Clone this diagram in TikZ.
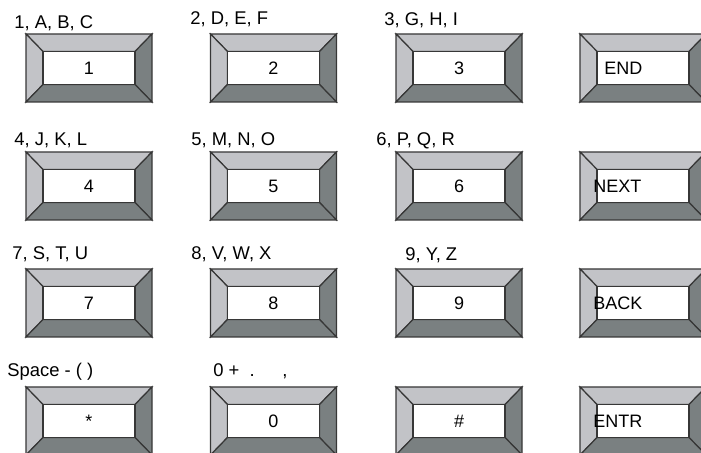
\documentclass[tikz,border=0pt]{standalone}
\usepackage{fontspec}
\setmainfont{Liberation Sans}
\usetikzlibrary{positioning}
\definecolor{bevellight}{RGB}{194,195,199}
\definecolor{beveldark}{RGB}{122,128,129}
\definecolor{keyedge}{RGB}{55,55,55}

\tikzset{
  keyline/.style={draw=keyedge, line width=0.6pt, line join=miter},
  keytext/.style={inner sep=0pt, font=\fontsize{9}{11}\selectfont},
  keylabel/.style={inner sep=0pt, anchor=base west, font=\fontsize{9.2}{11}\selectfont}
}

\begin{document}
\begin{tikzpicture}[x=0.5pt, y=-0.5pt]
  \useasboundingbox (0,0) rectangle (701,453);
  % bevelled keys
  \foreach \cx/\cy in {89/68, 273.5/68, 459/68, 643/68,
                       89/186, 273.5/186, 459/186, 643/186,
                       89/303, 273.5/303, 459/303, 643/303,
                       89/421, 273.5/421, 459/421, 643/421}{
    \fill[beveldark] (\cx-63,\cy-34) rectangle (\cx+63,\cy+34);
    \filldraw[bevellight, keyline] (\cx-63,\cy-34) -- (\cx+63,\cy-34) -- (\cx+46,\cy-16.5) -- (\cx-46,\cy-16.5) -- cycle;
    \filldraw[bevellight, keyline] (\cx-63,\cy-34) -- (\cx-46,\cy-16.5) -- (\cx-46,\cy+16.5) -- (\cx-63,\cy+34) -- cycle;
    \filldraw[beveldark, keyline] (\cx+63,\cy-34) -- (\cx+46,\cy-16.5) -- (\cx+46,\cy+16.5) -- (\cx+63,\cy+34) -- cycle;
    \filldraw[beveldark, keyline] (\cx-63,\cy+34) -- (\cx+63,\cy+34) -- (\cx+46,\cy+16.5) -- (\cx-46,\cy+16.5) -- cycle;
    \filldraw[white, keyline] (\cx-46,\cy-16.5) rectangle (\cx+46,\cy+16.5);
  }

  % key faces
  \foreach \cx/\cy/\kname/\ktxt in {89/68/k1/1, 273.5/68/k2/2, 459/68/k3/3,
                                    89/186/k4/4, 273.5/186/k5/5, 459/186/k6/6,
                                    89/303/k7/7, 273.5/303/k8/8, 459/303/k9/9,
                                    89/421/kstar/*, 273.5/421/k0/0, 459/421/khash/\#}
    \node[keytext] (\kname) at (\cx,\cy) {\ktxt};

  \node[keytext, anchor=west] (kend)  at (604,68)  {END};
  \node[keytext, anchor=west] (knext) at (593,186) {NEXT};
  \node[keytext, anchor=west] (kback) at (593,303) {BACK};
  \node[keytext, anchor=west] (kentr) at (593,421) {ENTR};

  % letters above the keys
  \node[keylabel] (l1) at (14,29)  {1, A, B, C};
  \node[keylabel] (l2) at (190,25) {2, D, E, F};
  \node[keylabel] (l3) at (384,26) {3, G, H, I};
  \node[keylabel] (l4) at (14,146)  {4, J, K, L};
  \node[keylabel] (l5) at (191,146) {5, M, N, O};
  \node[keylabel] (l6) at (376,146) {6, P, Q, R};
  \node[keylabel] (l7) at (12,260)  {7, S, T, U};
  \node[keylabel] (l8) at (191,260) {8, V, W, X};
  \node[keylabel] (l9) at (405,261) {9, Y, Z};
  \node[keylabel] (lspace) at (7,377) {Space - ( )};
  \node[keylabel] (lzero)  at (213,377) {0 +\ \ .\hspace{1.5em},};
\end{tikzpicture}
\end{document}
